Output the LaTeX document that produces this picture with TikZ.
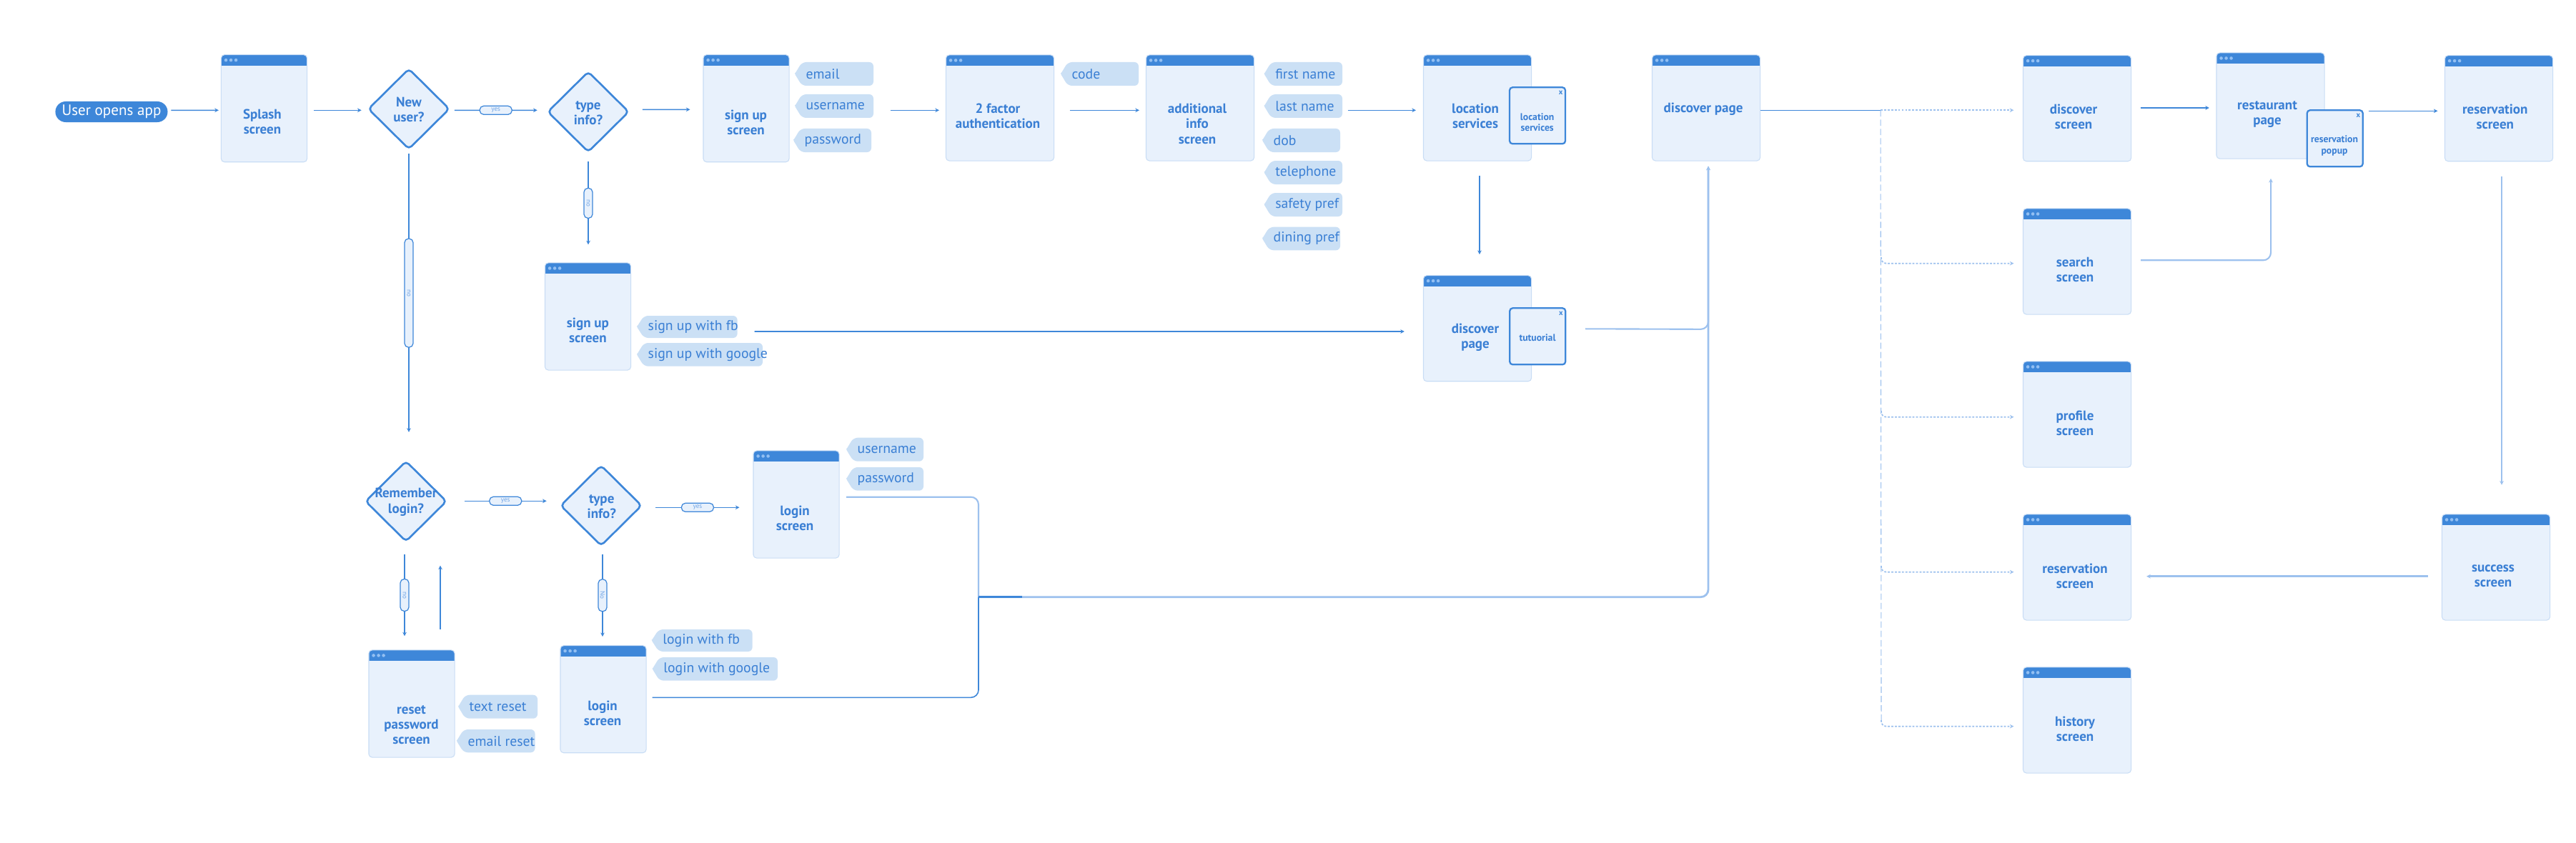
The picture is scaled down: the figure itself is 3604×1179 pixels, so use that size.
\documentclass[tikz,border=0pt]{standalone}
\usepackage{fontspec}
\setmainfont{PT Sans}
\usetikzlibrary{shapes.geometric,arrows.meta,calc}
\definecolor{hdrc}{HTML}{3E87D9}
\definecolor{bodyc}{HTML}{E8F1FC}
\definecolor{chipc}{HTML}{CBE0F5}
\definecolor{textc}{HTML}{3A7FD4}
\definecolor{lightc}{HTML}{9DC1EE}
\definecolor{dotc}{HTML}{92BFF2}
\definecolor{bordc}{HTML}{C9DDF5}
\definecolor{pillt}{HTML}{6FA4E6}
\newcommand\chiptag[6]{%
  \fill[chipc] [rounded corners=1.7pt] (#2,{(#3+#5)/2}) -- ({#2+10},#3) -- (#4,#3) -- (#4,#5) -- ({#2+10},#5) [rounded corners=0.4pt] -- (#2,{(#3+#5)/2}) -- cycle;
  \node[chiptxt] (#1) at ({#2+15},{(#3+#5)/2}) {#6};}
\begin{document}
\begin{tikzpicture}[x=0.01cm,y=-0.01cm,
  scrbase/.style={draw=bordc, line width=0.3pt, fill=bodyc, rounded corners=1.3pt, inner sep=0pt,
    path picture={
      \fill[hdrc, sharp corners] (path picture bounding box.north west) rectangle ([yshift=-0.15cm]path picture bounding box.north east);
      \foreach \k in {0,1,2}{\fill[dotc] ([xshift={0.066cm+\k*0.07cm},yshift=-0.075cm]path picture bounding box.north west) circle[radius=0.023cm];}
    }},
  scrn/.style={scrbase, minimum width=1.2cm, minimum height=1.5cm},
  scrw/.style={scrbase, minimum width=1.51cm, minimum height=1.48cm},
  decision/.style={diamond, draw=hdrc, line width=0.75pt, fill=bodyc, minimum width=1.14cm, minimum height=1.13cm, inner sep=0pt, rounded corners=1.5pt},
  popbox/.style={draw=hdrc, line width=0.65pt, fill=bodyc, rounded corners=1.2pt, minimum width=0.78cm, minimum height=0.79cm, inner sep=0pt},
  xmark/.style={text=hdrc, font=\bfseries\fontsize{3}{3}\selectfont, inner sep=0pt},
  lbl/.style={text=textc, font=\bfseries\fontsize{5.4}{6}\selectfont, align=center, inner sep=0pt},
  popt/.style={text=textc, font=\bfseries\fontsize{3.9}{4.4}\selectfont, align=center, inner sep=0pt},
  chiptxt/.style={text=textc, font=\fontsize{5.6}{6}\selectfont, anchor=west, inner sep=0pt},
  startp/.style={fill=hdrc, text=white, rounded corners=0.145cm, minimum width=1.57cm, minimum height=0.29cm, inner sep=0pt, font=\fontsize{6}{6}\selectfont},
  tagp/.style={draw=hdrc, line width=0.35pt, fill=bodyc, rounded corners=0.055cm, minimum width=#1, minimum height=0.12cm, inner sep=0pt, text=pillt, font=\fontsize{2.6}{2.6}\selectfont},
  conn/.style={draw=hdrc, line width=0.45pt},
  arr/.style={conn, -{Stealth[length=1.6pt,width=1.6pt]}},
  lconn/.style={draw=lightc, line width=0.6pt},
  larr/.style={lconn, -{Stealth[length=1.6pt,width=1.6pt]}},
  dashb/.style={draw=lightc, line width=0.5pt, dash pattern=on 0.8pt off 0.6pt, -{Stealth[length=1.6pt,width=1.6pt]}},
  dashv/.style={draw=lightc, line width=0.3pt, dash pattern=on 2.5pt off 1.2pt}
]
\useasboundingbox (0,0) rectangle (3604,1179);
\fill[white] (0,0) rectangle (3604,1179);

% start
\node[startp] (start) at (156,156.5) {User opens app};

% screens
\node[scrn] (splash) at (369.5,151.7) {};
\node[scrn] (su) at (1044,151.7) {};
\node[scrw] (tfa) at (1399,151) {};
\node[scrw] (addl) at (1679,151) {};
\node[scrw] (locs) at (2067,151) {};
\node[scrw] (discp) at (2387,151) {};
\node[scrw] (discs) at (2906,151.7) {};
\node[scrw] (rest) at (3176.5,148) {};
\node[scrw] (resv) at (3496,151.7) {};
\node[scrw] (srch) at (2906,366) {};
\node[scrw] (prof) at (2906,580) {};
\node[scrw] (resv2) at (2906,794) {};
\node[scrw] (hist) at (2906,1008) {};
\node[scrw] (succ) at (3492,794) {};
\node[scrn] (su2) at (822.5,443) {};
\node[scrw] (discp2) at (2067,459.7) {};
\node[scrn] (lg1) at (1114,706) {};
\node[scrn] (rst) at (576,985) {};
\node[scrn] (lg2) at (844,978.7) {};

% decisions
\node[decision] (nu) at (572,152.5) {};
\node[decision] (ti1) at (823,156.5) {};
\node[decision] (rem) at (568,701.7) {};
\node[decision] (ti2) at (841,707.7) {};

% popups
\node[popbox] (poploc) at (2151,161.8) {};
\node[popbox] (poptut) at (2151.2,470.8) {};
\node[popbox] (popres) at (3266.7,193.8) {};
\node[xmark] (xloc) at ($(poploc.north east)+(-7.5,8.4)$) {x};
\node[xmark] (xtut) at ($(poptut.north east)+(-7.5,8.4)$) {x};
\node[xmark] (xres) at ($(popres.north east)+(-7.5,8.4)$) {x};
\node[popt] (tloc) at (2150.6,171.2) {location\\services};
\node[popt] (ttut) at (2151,472.7) {tutuorial};
\node[popt] (tres) at (3266,203.8) {reservation\\popup};

% labels
\node[lbl] (t-splash) at (367,170.8) {Splash\\screen};
\node[lbl] (t-su) at (1043.5,171.7) {sign up\\screen};
\node[lbl] (t-tfa) at (1396,162.8) {2 factor\\authentication};
\node[lbl] (t-addl) at (1675,173.3) {additional\\info\\screen};
\node[lbl] (t-locs) at (2064,162.8) {location\\services};
\node[lbl] (t-discp) at (2383,152.3) {discover page};
\node[lbl] (t-discs) at (2901,163.8) {discover\\screen};
\node[lbl] (t-rest) at (3172,160) {restaurant\\page};
\node[lbl] (t-resv) at (3490.7,163.8) {reservation\\screen};
\node[lbl] (t-srch) at (2903,377.8) {search\\screen};
\node[lbl] (t-prof) at (2903,592) {profile\\screen};
\node[lbl] (t-resv2) at (2903,806.2) {reservation\\screen};
\node[lbl] (t-hist) at (2903,1020) {history\\screen};
\node[lbl] (t-succ) at (3488,806.2) {success\\screen};
\node[lbl] (t-su2) at (822.4,462.8) {sign up\\screen};
\node[lbl] (t-discp2) at (2064,472.2) {discover\\page};
\node[lbl] (t-lg1) at (1112,725.5) {login\\screen};
\node[lbl] (t-lg2) at (843,998.4) {login\\screen};
\node[lbl] (t-rst) at (575.5,1015) {reset\\password\\screen};
\node[lbl] (t-nu) at (572,153.7) {New\\user?};
\node[lbl] (t-ti1) at (823,158.3) {type\\info?};
\node[lbl] (t-rem) at (568,702.8) {Remember\\login?};
\node[lbl] (t-ti2) at (841.8,708.7) {type\\info?};

% chips
\chiptag{c-email}{1112}{87}{1222}{120}{email}
\chiptag{c-user}{1112}{132}{1222}{165}{username}
\chiptag{c-pass}{1110}{180}{1219}{213}{password}
\chiptag{c-code}{1484}{87}{1593}{120}{code}
\chiptag{c-first}{1768.6}{87}{1878}{120}{first name}
\chiptag{c-last}{1768.6}{132}{1878}{165}{last name}
\chiptag{c-dob}{1766}{180}{1875}{213}{dob}
\chiptag{c-tel}{1768.6}{225}{1878}{258}{telephone}
\chiptag{c-safe}{1768.6}{270}{1878}{303}{safety pref}
\chiptag{c-dine}{1766}{317.7}{1875}{350.3}{dining pref}
\chiptag{c-sufb}{891}{442}{1031.6}{473}{sign up with fb}
\chiptag{c-sugo}{891}{480}{1067}{512.7}{sign up with google}
\chiptag{c-luser}{1184}{612.7}{1292}{645.7}{username}
\chiptag{c-lpass}{1184}{654}{1292}{686.7}{password}
\chiptag{c-lgfb}{911.7}{881}{1052.6}{912}{login with fb}
\chiptag{c-lggo}{912.7}{920}{1088}{952.7}{login with google}
\chiptag{c-trst}{641}{972.7}{752}{1005.7}{text reset}
\chiptag{c-erst}{638.8}{1021}{748.5}{1053.3}{email reset}

% coordinates
\coordinate (jn) at (2631,154.3);
\coordinate (tb) at (2632,1010);
\coordinate (v1) at (2632,360);
\coordinate (v2) at (2632,575);
\coordinate (v3) at (2632,792);
\coordinate (v4) at (2632,1008);
\coordinate (cA) at (1369,695.7);
\coordinate (cB) at (1369,976.3);
\coordinate (mA) at (1369,835.7);
\coordinate (mB) at (2390,835.7);
\coordinate (cS) at (3177,364.3);

% connectors top row
\draw[arr] ($(start.east)+(4,-2.2)$) -- ($(splash.west)+(-3,2.6)$);
\draw[arr] ($(splash.east)+(9,2.6)$) -- ($(nu.west)+(-8,1.8)$);
\draw[arr] ($(nu.east)+(5.4,1.8)$) -- node[tagp=0.45cm] (y1) {yes} ($(ti1.west)+(-13,-2.2)$);
\draw[arr] ($(ti1.east)+(17.5,-3.2)$) -- ($(su.west)+(-18,1.6)$);
\draw[arr] ($(su.east)+(141,2.6)$) -- ($(tfa.west)+(-9,3.3)$);
\draw[arr] ($(tfa.east)+(21.5,3.3)$) -- ($(addl.west)+(-9,3.3)$);
\draw[arr] ($(addl.east)+(130.5,3.3)$) -- ($(locs.west)+(-10,3.3)$);
\draw[arr] ($(locs.south)+(3,20)$) -- ($(discp2.north)+(3,-29)$);
\draw[arr] ($(su2.east)+(172.5,21)$) -- ($(discp2.west)+(-26,4.3)$);
\draw[larr, rounded corners=3pt] ($(discp2.east)+(75,0.6)$) -- ($(discp.south)+(3,235.3)$) -- ($(discp.south)+(3,7)$);

% decisions down
\draw[arr] ($(nu.south)+(0,5)$) -- node[tagp=1.52cm, rotate=-90] (n1) {no} ($(rem.north)+(4,-39)$);
\draw[arr] ($(ti1.south)+(0,12)$) -- node[tagp=0.42cm, rotate=-90] (n2) {no} ($(su2.north)+(0.5,-25)$);
\draw[arr] ($(rem.east)+(23.5,-0.4)$) -- node[tagp=0.45cm] (y2) {yes} ($(ti2.west)+(-18,-6.4)$);
\draw[arr] ($(ti2.east)+(18,2.6)$) -- node[tagp=0.45cm] (y3) {yes} ($(lg1.west)+(-19,4.3)$);
\draw[arr] ($(rem.south)+(-2,16)$) -- node[tagp=0.45cm, rotate=-90] (n3) {no} ($(rst.north)+(-10,-19)$);
\draw[arr] ($(ti2.south)+(2,10)$) -- node[tagp=0.45cm, rotate=-90] (n4) {No} ($(lg2.north)+(-1,-12)$);
\draw[arr] ($(rst.north)+(40,-28.3)$) -- ($(rem.south)+(48,32)$);

% login bracket
\draw[lconn, rounded corners=3pt] ($(lg1.east)+(9.5,-10.3)$) -- (cA) -- (mA);
\draw[conn, rounded corners=3pt] ($(lg2.east)+(8,-2.4)$) -- (cB) -- (mA);
\draw[larr, line width=0.8pt, rounded corners=3pt] (mA) -- (mB) -- ($(discp.south)+(3,7)$);
\draw[conn, line width=0.8pt] (mA) -- ++(61,0);

% right side
\draw[conn] ($(discp.east)+(0,3.3)$) -- (jn);
\draw[dashb] (jn) -- ($(discs.west)+(-12.6,2.6)$);
\draw[dashv] (jn) -- (tb);
\draw[dashb, rounded corners=2pt] (v1) -- ($(v1)+(0,8.7)$) -- ($(srch.west)+(-12.5,2.7)$);
\draw[dashb, rounded corners=2pt] (v2) -- ($(v2)+(0,8.7)$) -- ($(prof.west)+(-12.5,3.7)$);
\draw[dashb, rounded corners=2pt] (v3) -- ($(v3)+(0,8.7)$) -- ($(resv2.west)+(-12.5,6.7)$);
\draw[dashb, rounded corners=2pt] (v4) -- ($(v4)+(0,8.7)$) -- ($(hist.west)+(-12.5,8.7)$);
\draw[arr] ($(discs.east)+(12.5,-0.7)$) -- ($(rest.west)+(-9.5,3)$);
\draw[arr] ($(rest.east)+(61,7.3)$) -- ($(resv.west)+(-9.5,3.6)$);
\draw[larr, rounded corners=3pt] ($(srch.east)+(13,-1.7)$) -- (cS) -- ($(rest.south)+(0.5,27.3)$);
\draw[larr] ($(resv.south)+(4,20.3)$) -- ($(succ.north)+(8,-40.7)$);
\draw[larr, line width=0.9pt] ($(succ.west)+(-19,12.7)$) -- ($(resv2.east)+(21,12.7)$);
\end{tikzpicture}
\end{document}
